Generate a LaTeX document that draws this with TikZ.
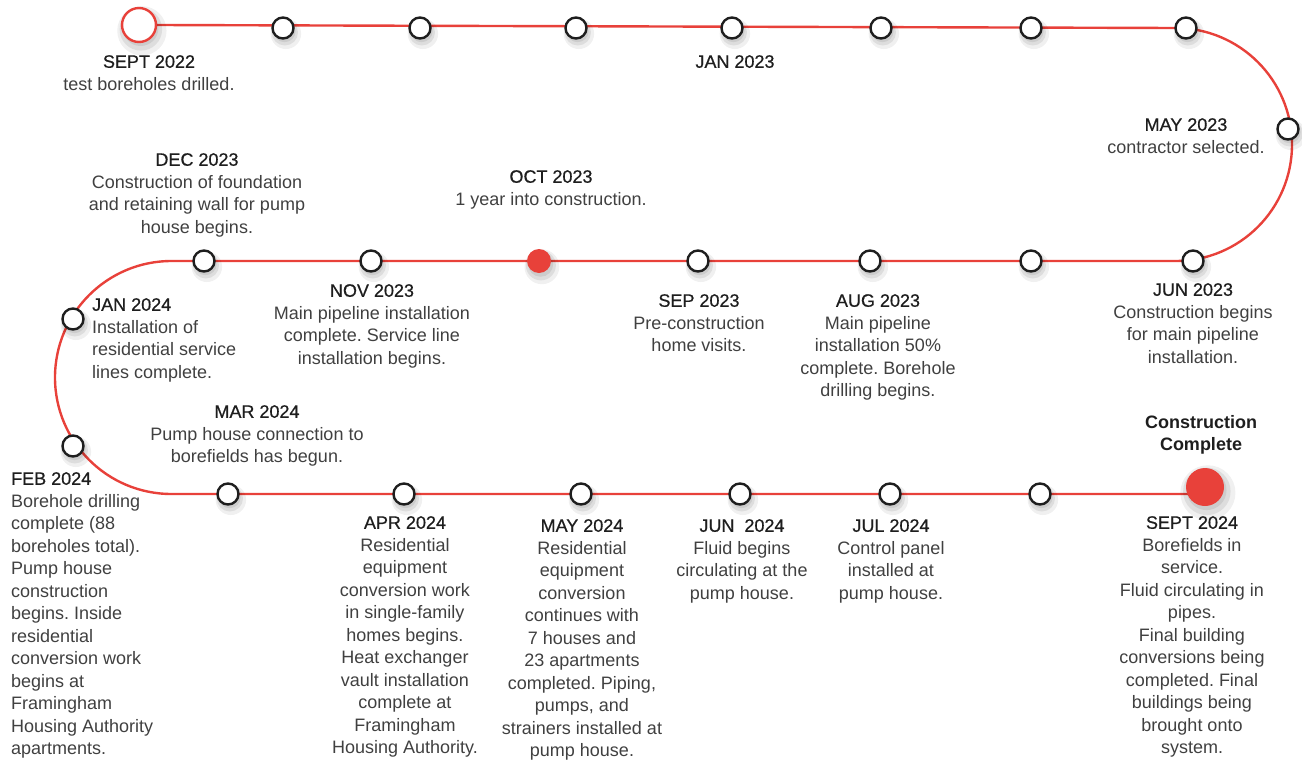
\documentclass[tikz,border=0pt]{standalone}
\usepackage{fontspec}
\setmainfont{Liberation Sans}
\newfontfamily\hdfont{Liberation Sans}[FakeBold=0.6]
\usetikzlibrary{shadows,backgrounds}
\definecolor{tlred}{HTML}{E8413A}
\definecolor{ink}{HTML}{1E1E1E}
\definecolor{bodytext}{HTML}{404040}
\newcommand\hd[1]{{\hdfont\color{ink}#1}}
\frenchspacing
\tikzset{
  softshadow/.style={
    drop shadow={shadow xshift=2pt,shadow yshift=-4pt,opacity=0.06,shadow scale=1.45,fill=black},
    drop shadow={shadow xshift=1.5pt,shadow yshift=-3.5pt,opacity=0.08,shadow scale=1.25,fill=black},
    drop shadow={shadow xshift=1.5pt,shadow yshift=-3pt,opacity=0.08,shadow scale=1.05,fill=black}},
  ev/.style={circle,draw=ink,fill=white,line width=2.4pt,minimum size=21pt,inner sep=0pt,softshadow},
  startev/.style={circle,draw=tlred,fill=white,line width=2.4pt,minimum size=34pt,inner sep=0pt,softshadow},
  redev/.style={circle,fill=tlred,minimum size=24pt,inner sep=0pt,softshadow},
  endev/.style={circle,fill=tlred,minimum size=38pt,inner sep=0pt,softshadow},
  track/.style={draw=tlred,line width=2.4pt},
  lab/.style={font=\fontsize{18}{22.5}\selectfont,text=bodytext,align=center,inner sep=0pt,anchor=north},
  labl/.style={lab,align=left,anchor=north west}
}
\begin{document}
\begin{tikzpicture}[x=1pt,y=-1pt]
\useasboundingbox (0,0) rectangle (1302,763);
% events, top row
\node[startev] (s0) at (139,25) {};
\node[ev] (t1) at (283,28) {};
\node[ev] (t2) at (420,28) {};
\node[ev] (t3) at (576,28) {};
\node[ev] (t4) at (732,28) {};
\node[ev] (t5) at (881,28) {};
\node[ev] (t6) at (1031,28) {};
\node[ev] (t7) at (1186,28) {};
\node[ev] (r1) at (1288,129) {};
% middle row
\node[ev] (m1) at (1193,261) {};
\node[ev] (m2) at (1031,261) {};
\node[ev] (m3) at (870,261) {};
\node[ev] (m4) at (698,261) {};
\node[redev] (m5) at (539,261) {};
\node[ev] (m6) at (371,261) {};
\node[ev] (m7) at (204,261) {};
\node[ev] (l1) at (73,319) {};
\node[ev] (l2) at (73,446) {};
% bottom row
\node[ev] (b1) at (228,494) {};
\node[ev] (b2) at (404,494) {};
\node[ev] (b3) at (581,494) {};
\node[ev] (b4) at (740,494) {};
\node[ev] (b5) at (890,494) {};
\node[ev] (b6) at (1040,494) {};
\node[endev] (e0) at (1205,487) {};
% track
\coordinate (ra) at (1175.5,28);
\coordinate (rb) at (171.5,261);
\coordinate (rc) at (1190,494);
\begin{scope}[on background layer]
\draw[track] (s0.east) -- (ra) arc[start angle=90,end angle=-90,radius=116.5pt]
  -- (rb) arc[start angle=90,end angle=270,radius=116.5pt] -- (rc);
\end{scope}
% labels
\node[lab] (ls0) at (149,55) {\hd{SEPT 2022}\\test boreholes drilled.};
\node[lab] (lt4) at (735,55) {\hd{JAN 2023}};
\node[lab] (lr1) at (1186,118) {\hd{MAY 2023}\\contractor selected.};
\node[lab] (lm7) at (197,153) {\hd{DEC 2023}\\Construction of foundation\\and retaining wall for pump\\house begins.};
\node[lab] (lm5) at (551,170) {\hd{OCT 2023}\\1 year into construction.};
\node[lab] (lm6) at (372,284) {\hd{NOV 2023}\\Main pipeline installation\\complete. Service line\\installation begins.};
\node[lab] (lm4) at (699,294) {\hd{SEP 2023}\\Pre-construction\\home visits.};
\node[lab] (lm3) at (878,294) {\hd{AUG 2023}\\Main pipeline\\installation 50\%\\complete. Borehole\\drilling begins.};
\node[lab] (lm1) at (1193,283) {\hd{JUN 2023}\\Construction begins\\for main pipeline\\installation.};
\node[labl] (ll1) at (92,298) {\hd{JAN 2024}\\Installation of\\residential service\\lines complete.};
\node[lab] (lb1) at (257,405) {\hd{MAR 2024}\\Pump house connection to\\borefields has begun.};
\node[lab,font=\fontsize{18}{22.5}\selectfont\bfseries,text=ink] (lce) at (1201,415) {Construction\\Complete};
\node[labl] (ll2) at (11,472) {\hd{FEB 2024}\\Borehole drilling\\complete (88\\boreholes total).\\Pump house\\construction\\begins. Inside\\residential\\conversion work\\begins at\\Framingham\\Housing Authority\\apartments.};
\node[lab] (lb2) at (405,516) {\hd{APR 2024}\\Residential\\equipment\\conversion work\\in single-family\\homes begins.\\Heat exchanger\\vault installation\\complete at\\Framingham\\Housing Authority.};
\node[lab] (lb3) at (582,519) {\hd{MAY 2024}\\Residential\\equipment\\conversion\\continues with\\7 houses and\\23 apartments\\completed. Piping,\\pumps, and\\strainers installed at\\pump house.};
\node[lab] (lb4) at (742,519) {\hd{JUN\ \ 2024}\\Fluid begins\\circulating at the\\pump house.};
\node[lab] (lb5) at (891,519) {\hd{JUL 2024}\\Control panel\\installed at\\pump house.};
\node[lab] (le0) at (1192,516) {\hd{SEPT 2024}\\Borefields in\\service.\\Fluid circulating in\\pipes.\\Final building\\conversions being\\completed. Final\\buildings being\\brought onto\\system.};
\end{tikzpicture}
\end{document}
